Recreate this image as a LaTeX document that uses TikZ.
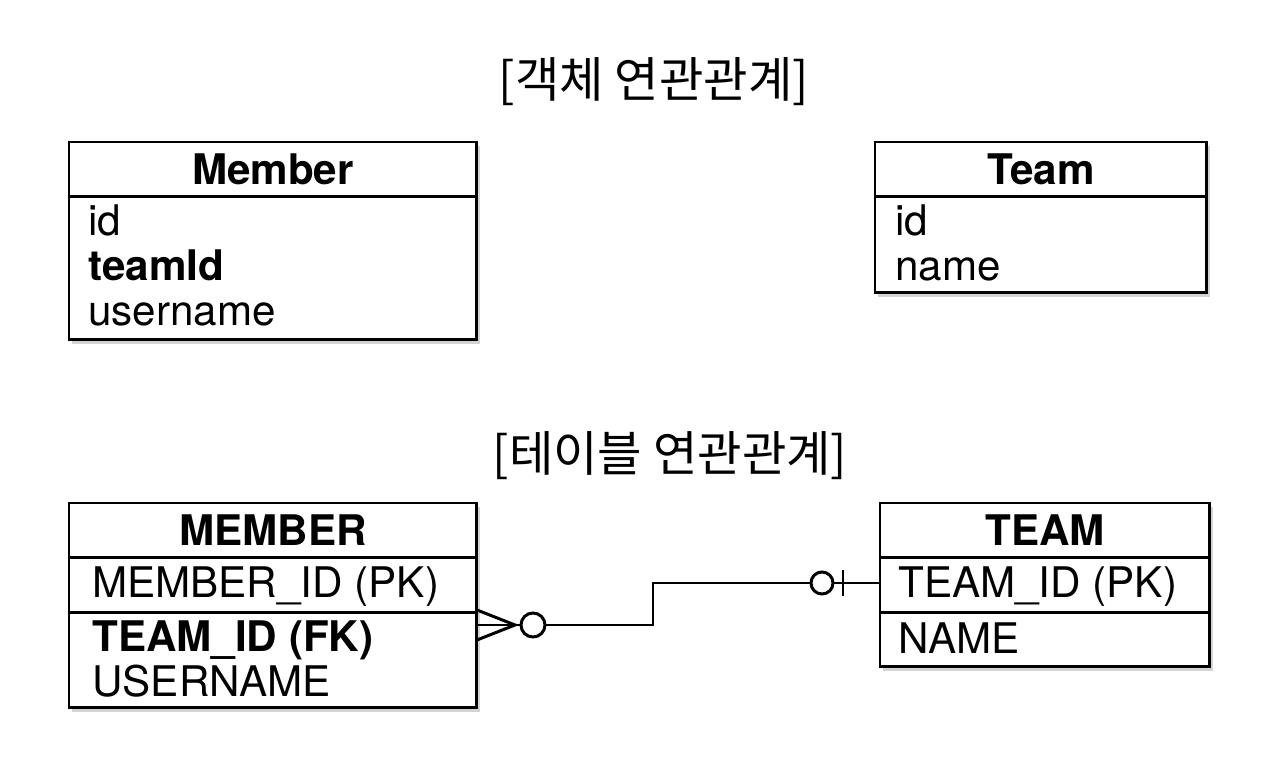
\documentclass[tikz,border=0pt]{standalone}
\usepackage{fontspec}
\setmainfont{TeX Gyre Heros}
\newfontfamily\kr{Noto Sans CJK KR}
\usetikzlibrary{shadows}

\tikzset{
  tbl/.style={draw, line width=1.7pt, fill=white, anchor=north west, inner sep=0pt, outer sep=0pt,
    drop shadow={shadow xshift=1.5pt, shadow yshift=-2.5pt, opacity=.35}},
  sec/.style={draw, line width=1.7pt, anchor=north, inner sep=0pt, outer sep=0pt, minimum height=1.1cm},
  hdr/.style={sec, font=\fontsize{24}{28}\selectfont\bfseries},
  fld/.style={anchor=base west, inner sep=0pt, font=\fontsize{24}{28}\selectfont},
  bfld/.style={fld, font=\fontsize{24}{28}\selectfont\bfseries},
  ttl/.style={font=\kr\fontsize{27.5}{32}\selectfont},
  conn/.style={line width=1.7pt},
  circ/.style={draw, circle, line width=1.7pt, fill=white, inner sep=0pt, outer sep=0pt},
}

\begin{document}
\begin{tikzpicture}[x=0.02cm, y=-0.02cm]
\useasboundingbox (0,0) rectangle (1276,760);
% titles
\node[ttl] (t1) at (654,82) {[객체 연관관계]};
\node[ttl] (t2) at (670,456) {[테이블 연관관계]};

% objects
\node[tbl, minimum width=8.16cm, minimum height=3.96cm] (mem) at (69,142) {};
\node[hdr, minimum width=8.16cm] (memh) at (mem.north) {Member};
\node[fld] (m1) at (88,236) {id};
\node[bfld] (m2) at (88,281) {teamId};
\node[fld] (m3) at (88,326) {username};

\node[tbl, minimum width=6.64cm, minimum height=3.02cm] (team) at (875,142) {};
\node[hdr, minimum width=6.64cm] (teamh) at (team.north) {Team};
\node[fld] (t1a) at (895,236) {id};
\node[fld] (t1b) at (895,281) {name};

% tables
\node[tbl, minimum width=8.16cm, minimum height=4.1cm] (memtab) at (69,503) {};
\node[hdr, minimum width=8.16cm] (memtabh) at (memtab.north) {MEMBER};
\node[sec, minimum width=8.16cm] (mempk) at (memtabh.south) {};
\node[fld] (c1a) at (92,598) {MEMBER\_ID (PK)};
\node[bfld] (c1b) at (92,651) {TEAM\_ID (FK)};
\node[fld] (c1c) at (92,696) {USERNAME};

\node[tbl, minimum width=6.6cm, minimum height=3.28cm] (teamtab) at (880,503) {};
\node[hdr, minimum width=6.6cm] (teamtabh) at (teamtab.north) {TEAM};
\node[sec, minimum width=6.6cm] (teampk) at (teamtabh.south) {};
\node[fld] (c2a) at (898,598) {TEAM\_ID (PK)};
\node[fld] (c2b) at (898,653) {NAME};

% relation
\coordinate (fk) at (477,625);
\coordinate (pk) at (880,583);
\node[circ, minimum size=0.48cm] (o1) at (533,625) {};
\node[circ, minimum size=0.44cm] (o2) at (822,583) {};
\draw[conn] (fk) ++(0,-15) -- ++(38,15) -- ++(-38,15);
\draw[conn] (fk) -- (o1.west);
\draw[conn] (o1.east) -| (653,583) -- (o2.west);
\draw[conn] (o2.east) -- (pk);
\draw[conn] (o2.east) ++(10,-13) -- ++(0,26);
\end{tikzpicture}
\end{document}
